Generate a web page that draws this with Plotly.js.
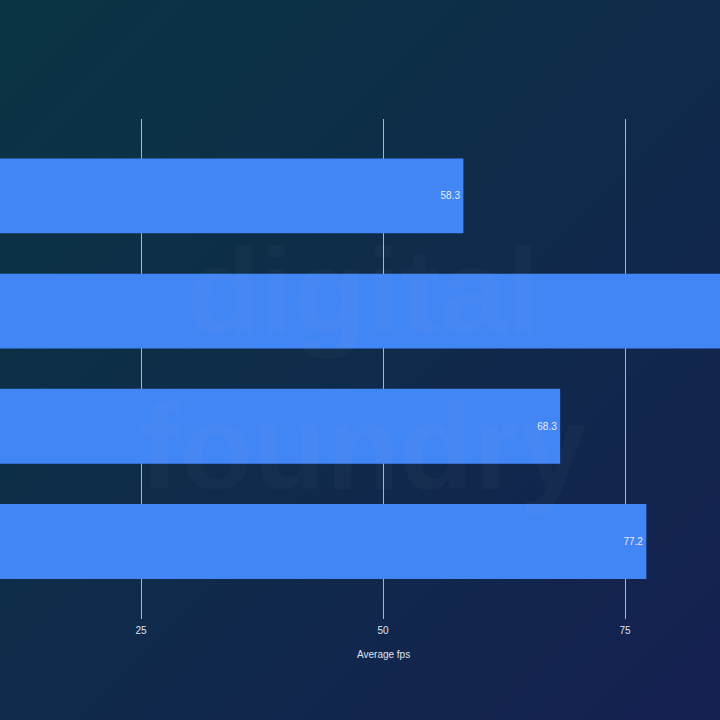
<!DOCTYPE html>
<html>
<head>
<meta charset="utf-8">
<script src="https://cdn.plot.ly/plotly-3.0.1.min.js"></script>
<style>
html,body{margin:0;padding:0;width:720px;height:720px;overflow:hidden;
background:linear-gradient(135deg,#0a3443 0%,#0f2b4a 50%,#152051 100%);}
#chart{width:720px;height:720px;}
</style>
</head>
<body>
<div id="chart"></div>
<script>
const categories = ["Config A", "Config B", "Config C", "Config D"];
const avgFps = [58.3, 88.5, 68.3, 77.2];
const barLabels = ["58.3", "", "68.3", "77.2"];
const tickValues = [25, 50, 75];
const tickLabels = ["25", "50", "75"];
const axisTitle = "Average fps";

const trace = {
  type: "bar",
  orientation: "h",
  y: categories,
  x: avgFps,
  marker: {color: "#4285F4"},
  text: barLabels,
  textposition: "inside",
  insidetextanchor: "end",
  textfont: {family: "Liberation Sans, Arial, sans-serif", size: 10, color: "#e6ecfa"},
  cliponaxis: true,
  hoverinfo: "none"
};

const layout = {
  width: 720, height: 720,
  margin: {l: 0, r: 0, t: 119, b: 101, pad: 0},
  paper_bgcolor: "rgba(0,0,0,0)",
  plot_bgcolor: "rgba(0,0,0,0)",
  showlegend: false,
  bargap: 0.35,
  font: {family: "Liberation Sans, Arial, sans-serif", color: "#dfe5f0"},
  xaxis: {
    range: [10.43, 84.81],
    tickvals: tickValues,
    ticktext: tickLabels,
    showgrid: true,
    gridcolor: "rgba(220,228,240,0.75)",
    gridwidth: 1,
    zeroline: false,
    showline: false,
    ticks: "",
    ticklabelstandoff: 4,
    tickfont: {size: 10, color: "#dfe5f0"},
    fixedrange: true
  },
  yaxis: {
    range: [3.673, -0.668],
    showticklabels: false,
    showgrid: false,
    zeroline: false,
    showline: false,
    ticks: "",
    fixedrange: true
  },
  annotations: [
    {text: axisTitle, xref: "paper", yref: "paper", x: 0.532, y: -0.07,
     xanchor: "center", yanchor: "middle", showarrow: false,
     font: {size: 10, color: "#dfe5f0"}},
    {text: "digital<br>foundry", xref: "paper", yref: "paper", x: 0.505, y: 0.5,
     xanchor: "center", yanchor: "middle", showarrow: false, align: "center",
     font: {size: 120, color: "rgba(255,255,255,0.025)", family: "Liberation Sans, Arial, sans-serif", weight: 700}}
  ]
};

Plotly.newPlot("chart", [trace], layout, {displayModeBar: false, staticPlot: true});
</script>
</body>
</html>
